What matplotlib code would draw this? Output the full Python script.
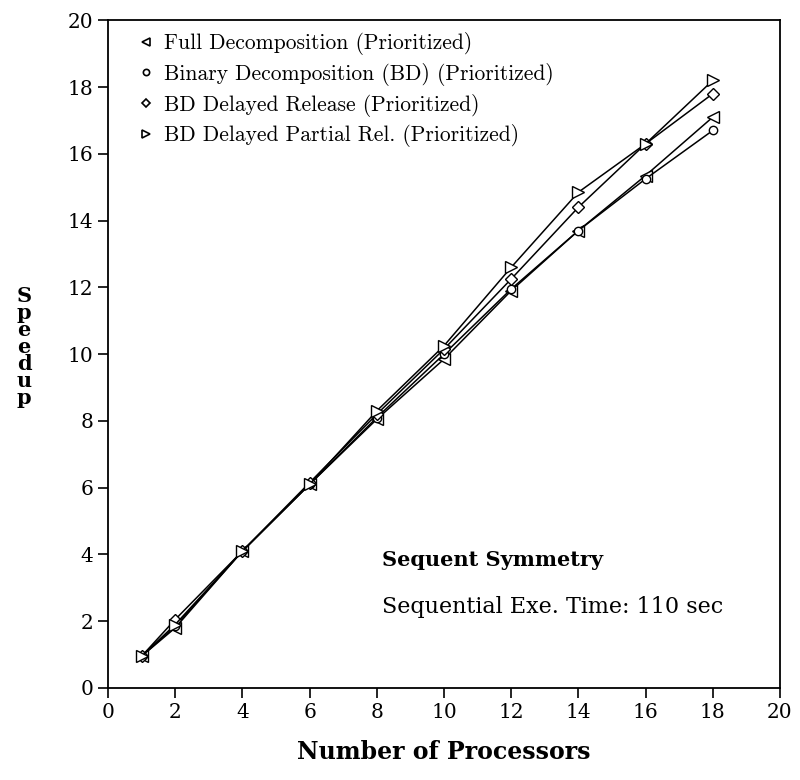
import matplotlib.pyplot as plt
from matplotlib.lines import Line2D

# datos
procesadores = [1, 2, 4, 6, 8, 10, 12, 14, 16, 18]
full_decomp = [0.95, 1.8, 4.1, 6.1, 8.05, 9.85, 11.9, 13.7, 15.35, 17.1]
binary_decomp = [0.95, 1.85, 4.1, 6.1, 8.1, 10.0, 11.95, 13.7, 15.25, 16.7]
bd_delayed = [0.95, 2.05, 4.1, 6.15, 8.2, 10.15, 12.25, 14.4, 16.3, 17.8]
bd_partial = [0.95, 1.9, 4.1, 6.1, 8.3, 10.25, 12.6, 14.85, 16.3, 18.2]

etiquetas = ['Full Decomposition (Prioritized)',
             'Binary Decomposition (BD) (Prioritized)',
             'BD Delayed Release (Prioritized)',
             'BD Delayed Partial Rel. (Prioritized)']
marcadores = ['<', 'o', 'D', '>']
tamanos = [8, 6, 6, 8]

plt.rcParams['font.family'] = ['DejaVu Serif']

fig = plt.figure(figsize=(8, 7.8), dpi=100)
ax = fig.add_axes([0.135, 0.118, 0.84, 0.856])

series = [full_decomp, binary_decomp, bd_delayed, bd_partial]
for y, m, s in zip(series, marcadores, tamanos):
    ax.plot(procesadores, y, color='black', lw=1.1, marker=m, ms=s,
            mfc='white', mec='black', mew=1.0)

ax.set_xlim(0, 20)
ax.set_ylim(0, 20)
ax.set_xticks(range(0, 21, 2))
ax.set_yticks(range(0, 21, 2))
ax.tick_params(direction='out', length=7, width=1.2, labelsize=14.5)
for sp in ax.spines.values():
    sp.set_linewidth(1.3)

ax.set_xlabel('Number of Processors', fontsize=17, fontweight='bold', labelpad=13)
fig.text(0.03, 0.555, 'S\np\ne\ne\nd\nu\np', fontsize=15, fontweight='bold',
         ha='center', va='center', linespacing=0.82)

handles = [Line2D([], [], ls='none', marker=m, ms=s * 0.75, mfc='white', mec='black', mew=1.2)
           for m, s in zip(marcadores, tamanos)]
ax.legend(handles, etiquetas, loc='upper left', frameon=False,
          prop={'family': 'cmr10', 'size': 15.5},
          handlelength=0.6, handletextpad=0.5, labelspacing=0.36,
          borderaxespad=0.15, bbox_to_anchor=(0.03, 1.0))

ax.text(8.15, 3.65, 'Sequent Symmetry', fontsize=15, fontweight='bold')
ax.text(8.15, 2.25, 'Sequential Exe. Time: 110 sec', fontsize=16)

plt.savefig('out.png')
